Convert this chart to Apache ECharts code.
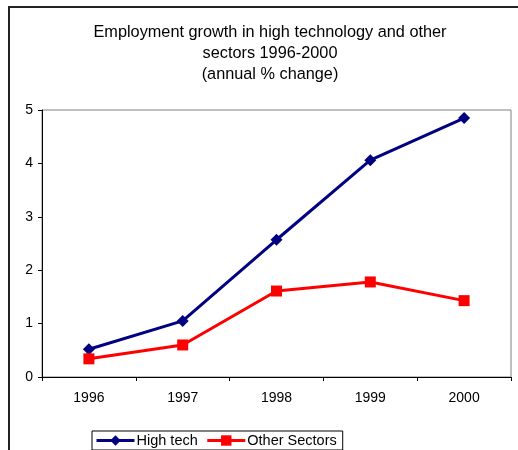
<!DOCTYPE html>
<html>
<head>
<meta charset="utf-8">
<script src="https://cdn.jsdelivr.net/npm/echarts@6/dist/echarts.min.js"></script>
<style>html,body{margin:0;padding:0;background:#fff;}#c{width:518px;height:450px;}</style>
</head>
<body>
<div id="c"></div>
<script>
const categories = ['1996', '1997', '1998', '1999', '2000'];
const highTech = [0.52, 1.05, 2.57, 4.06, 4.85];
const otherSectors = [0.34, 0.60, 1.61, 1.78, 1.43];
const yTicks = [0, 1, 2, 3, 4, 5];

const FONT = '"Liberation Sans", Arial, sans-serif';
const chart = echarts.init(document.getElementById('c'), null, {renderer: 'canvas'});
chart.setOption({
  animation: false,
  backgroundColor: '#fff',
  textStyle: {fontFamily: FONT, color: '#000'},
  title: {
    text: 'Employment growth in high technology and other\nsectors 1996-2000\n(annual % change)',
    left: 265, top: 17, textAlign: 'center',
    textStyle: {fontFamily: FONT, fontSize: 16.3, fontWeight: 'normal', color: '#000', lineHeight: 21}
  },
  graphic: [{
    type: 'rect', shape: {x: 9, y: 7, width: 700, height: 700},
    style: {fill: 'none', stroke: '#222', lineWidth: 2}, silent: true, z: 100
  }],
  grid: {left: 42, top: 110, right: 7, bottom: 73, show: true, borderColor: '#808080', borderWidth: 1},
  legend: {
    left: 92, top: 431,
    itemWidth: 38, itemHeight: 13, itemGap: 8,
    padding: [2, 6, 2, 3],
    borderColor: '#000', borderWidth: 1,
    lineStyle: {width: 3},
    textStyle: {fontFamily: FONT, fontSize: 14.5, color: '#000', padding: [0, 0, 0, -3]},
    data: ['High tech', 'Other Sectors']
  },
  xAxis: {
    type: 'category', data: categories, boundaryGap: true,
    axisLine: {lineStyle: {color: '#000', width: 1}},
    axisTick: {show: true, length: 4, lineStyle: {color: '#000'}},
    axisLabel: {fontFamily: FONT, fontSize: 14, color: '#000', margin: 14}
  },
  yAxis: {
    type: 'value', min: yTicks[0], max: yTicks[yTicks.length - 1], interval: 1,
    axisLine: {show: true, lineStyle: {color: '#000', width: 1}},
    axisTick: {show: true, length: 4, lineStyle: {color: '#000'}},
    splitLine: {show: false},
    axisLabel: {fontFamily: FONT, fontSize: 14, color: '#000', margin: 9}
  },
  series: [{
    name: 'High tech', type: 'line', data: highTech,
    lineStyle: {color: '#000080', width: 3},
    itemStyle: {color: '#000080'},
    symbol: 'diamond', symbolSize: 12, showAllSymbol: true
  }, {
    name: 'Other Sectors', type: 'line', data: otherSectors,
    lineStyle: {color: '#FF0000', width: 3},
    itemStyle: {color: '#FF0000'},
    symbol: 'rect', symbolSize: 11, showAllSymbol: true
  }]
});
</script>
</body>
</html>
